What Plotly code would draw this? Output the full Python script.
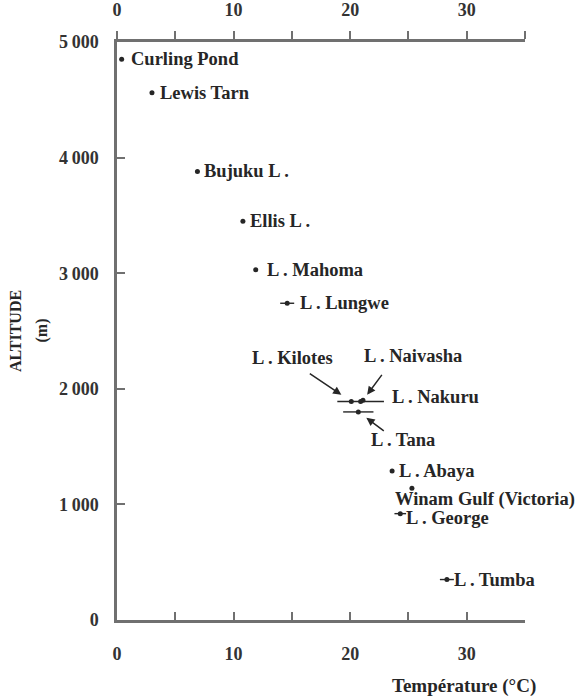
import plotly.graph_objects as go

# Lakes: surface water temperature against altitude
lakes = [
    "Curling Pond", "Lewis Tarn", "Bujuku L .", "Ellis L .", "L . Mahoma",
    "L . Lungwe", "L . Kilotes", "L . Naivasha", "L . Nakuru", "L . Tana",
    "L . Abaya", "Winam Gulf (Victoria)", "L . George", "L . Tumba",
]
temperature_c = [0.4, 3.0, 6.9, 10.8, 11.9, 14.6, 20.1, 21.1, 20.9, 20.7,
                 23.6, 25.3, 24.3, 28.3]
altitude_m = [4850, 4560, 3880, 3450, 3030, 2740, 1890, 1900, 1890, 1800,
              1290, 1140, 920, 350]
# half-width of the observed temperature range (0 = single value)
temp_halfrange_c = [0, 0, 0, 0, 0, 0.6, 0, 0, 2.0, 1.3, 0, 0, 0.5, 0.6]

x_tick_vals = [0, 5, 10, 15, 20, 25, 30, 35]
x_tick_text = ["0", "", "10", "", "20", "", "30", ""]
y_tick_vals = [0, 1000, 2000, 3000, 4000, 5000]
y_tick_text = ["0", "1\u2009000", "2\u2009000", "3\u2009000", "4\u2009000", "5\u2009000"]

FONT = "Liberation Serif"
INK = "#262626"
AXIS = "#707070"
FS = 18.5

# label placement: (xshift px, yshift px, xanchor)
label_offsets = {
    "Curling Pond": (8, 0, "left"),
    "Lewis Tarn": (7, 0, "left"),
    "Bujuku L .": (6, 0, "left"),
    "Ellis L .": (6, 0, "left"),
    "L . Mahoma": (10, 0, "left"),
    "L . Lungwe": (12, 0, "left"),
    "L . Kilotes": (-59, 44, "center"),
    "L . Naivasha": (0, 44, "left"),
    "L . Nakuru": (30, 5, "left"),
    "L . Tana": (12, -28, "left"),
    "L . Abaya": (6, 0, "left"),
    "Winam Gulf (Victoria)": (-18, -11, "left"),
    "L . George": (5, -4, "left"),
    "L . Tumba": (6, 0, "left"),
}
# pointer arrows: (tail dx px, tail dy px, standoff px)
arrow_tails = {
    "L . Kilotes": (-43, -29, 12),
    "L . Naivasha": (20, -27, 7),
    "L . Tana": (27, 20, 10),
}

fig = go.Figure()
fig.add_trace(go.Scatter(
    x=temperature_c, y=altitude_m, mode="markers", text=lakes,
    marker=dict(size=5, color=INK),
    error_x=dict(type="data", array=temp_halfrange_c, symmetric=True,
                 width=0, thickness=1.4, color=INK),
    hoverinfo="text", showlegend=False,
))
# carrier trace for the top temperature axis
fig.add_trace(go.Scatter(x=[0, 35], y=[0, 0], xaxis="x2", mode="markers",
                         marker=dict(opacity=0), hoverinfo="skip",
                         showlegend=False))

annotations = []
for name, t, a in zip(lakes, temperature_c, altitude_m):
    dx, dy, anchor = label_offsets[name]
    annotations.append(dict(
        x=t, y=a, xref="x", yref="y", text=name, showarrow=False,
        xanchor=anchor, yanchor="middle", xshift=dx, yshift=dy,
        borderpad=0,
        font=dict(family=FONT, size=FS, color=INK, weight="bold"),
    ))
    if name in arrow_tails:
        ax, ay, so = arrow_tails[name]
        annotations.append(dict(
            x=t, y=a, xref="x", yref="y", text="", showarrow=True,
            ax=ax, ay=ay, axref="pixel", ayref="pixel",
            arrowhead=2, arrowsize=1.1, arrowwidth=1.5, arrowcolor=INK,
            standoff=so,
        ))

annotations.append(dict(
    x=1.0, y=-0.114, xref="paper", yref="paper", text="Température (°C)",
    showarrow=False, xanchor="right", yanchor="middle", xshift=13,
    font=dict(family=FONT, size=19, color=INK, weight="bold"),
))
annotations.append(dict(
    x=-0.25, y=0.5, xref="paper", yref="paper", text="ALTITUDE",
    showarrow=False, textangle=-90, xanchor="center", yanchor="middle",
    font=dict(family=FONT, size=16, color=INK, weight="bold"),
))
annotations.append(dict(
    x=-0.185, y=0.5, xref="paper", yref="paper", text="(m)",
    showarrow=False, textangle=-90, xanchor="center", yanchor="middle",
    font=dict(family=FONT, size=16, color=INK, weight="bold"),
))

tick_font = dict(family=FONT, size=18, color="#333333", weight="bold")

fig.update_layout(
    width=582, height=699,
    margin=dict(l=117, r=57, t=42, b=79, autoexpand=False),
    paper_bgcolor="white", plot_bgcolor="white",
    annotations=annotations,
    xaxis=dict(range=[0, 35], tickvals=x_tick_vals, ticktext=x_tick_text,
               ticks="inside", ticklen=8, tickwidth=1.5, tickcolor=AXIS,
               showline=True, linecolor=AXIS, linewidth=2.5,
               showgrid=False, zeroline=False, tickfont=tick_font,
               ticklabelstandoff=16, automargin=False),
    xaxis2=dict(range=[0, 35], overlaying="x", side="top", anchor="y",
                tickvals=x_tick_vals, ticktext=x_tick_text,
                ticks="outside", ticklen=8, tickwidth=1.5, tickcolor=AXIS,
                showline=True, linecolor=AXIS, linewidth=2.5,
                showgrid=False, zeroline=False, tickfont=tick_font,
                ticklabelstandoff=8, automargin=False),
    yaxis=dict(range=[0, 5000], tickvals=y_tick_vals, ticktext=y_tick_text,
               ticks="inside", ticklen=8, tickwidth=1.5, tickcolor=AXIS,
               showline=True, linecolor=AXIS, linewidth=2.5,
               showgrid=False, zeroline=False, tickfont=tick_font,
               ticklabelstandoff=12, automargin=False),
)

fig.write_html("out.html")
